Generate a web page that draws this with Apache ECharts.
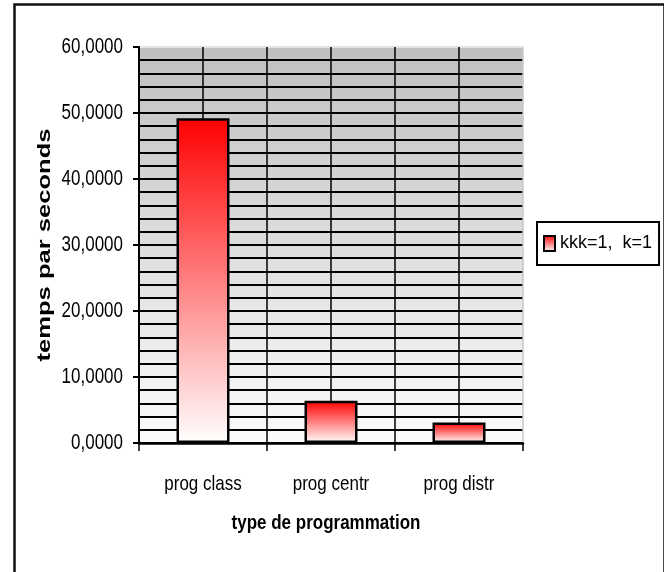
<!DOCTYPE html>
<html>
<head>
<meta charset="utf-8">
<script src="https://cdn.jsdelivr.net/npm/echarts@6/dist/echarts.min.js"></script>
<style>html,body{margin:0;padding:0;background:#fff}#c{width:664px;height:572px}</style>
</head>
<body>
<div id="c"></div>
<script>
var categories = ['prog class', 'prog centr', 'prog distr'];
var seriesName = 'kkk=1,  k=1';
var values = [49.2, 6.4, 3.1];
var yTicks = [0, 10, 20, 30, 40, 50, 60];
var yTitle = 'temps par seconds';
var xTitle = 'type de programmation';

var SANS = '"Liberation Sans", Arial, sans-serif';
function fmt(v) { return v.toFixed(4).replace('.', ','); }

var chart = echarts.init(document.getElementById('c'), null, {renderer: 'canvas'});
var grad = function (a, b) {
  return new echarts.graphic.LinearGradient(0, 0, 0, 1, [{offset: 0, color: a}, {offset: 1, color: b}]);
};
var frameGraphics = [
  {type: 'rect', left: 12, top: 2, shape: {width: 650, height: 620},
   style: {fill: null, stroke: '#111', lineWidth: 2.5}, silent: true},
  {type: 'text', x: 45, y: 245, rotation: Math.PI / 2, scaleX: 1.42,
   style: {text: yTitle, font: 'bold 18px ' + SANS, fill: '#000', textAlign: 'center', textVerticalAlign: 'middle'}},
  {type: 'text', x: 326, y: 523, scaleY: 1.2,
   style: {text: xTitle, font: 'bold 17px ' + SANS, fill: '#000', textAlign: 'center', textVerticalAlign: 'middle'}}
];
chart.setOption({
  animation: false,
  backgroundColor: '#ffffff',
  grid: {
    left: 139, right: 141, top: 47, bottom: 129,
    show: true, borderWidth: 0,
    backgroundColor: grad('#c0c0c0', '#fbfbfb')
  },
  legend: {
    left: 537, top: 222,
    orient: 'vertical',
    padding: [10, 7, 10, 6],
    borderColor: '#000', borderWidth: 2,
    backgroundColor: '#fff',
    itemWidth: 11, itemHeight: 15,
    icon: 'rect',
    itemStyle: {borderColor: '#000', borderWidth: 2},
    textStyle: {fontFamily: SANS, fontSize: 18, lineHeight: 23, color: '#000'},
    data: [seriesName]
  },
  xAxis: [{
    type: 'category',
    data: categories,
    axisLine: {lineStyle: {color: '#000', width: 2.5}},
    axisTick: {show: true, length: 8, lineStyle: {color: '#000', width: 1.5}},
    axisLabel: {show: false},
    splitLine: {show: false}
  }, {
    type: 'value', min: 0, max: 6, interval: 1, position: 'bottom',
    axisLine: {show: false}, axisTick: {show: false}, axisLabel: {show: false},
    splitLine: {show: true, lineStyle: {color: ['#000', '#000', '#000', '#000', '#000', '#000', '#c8c8c8'], width: 1.5}}
  }],
  yAxis: {
    type: 'value', min: yTicks[0], max: yTicks[yTicks.length - 1], interval: 10,
    axisLine: {show: true, lineStyle: {color: '#000', width: 2}},
    axisTick: {show: true, length: 6, lineStyle: {color: '#000', width: 2}},
    minorTick: {show: false, splitNumber: 5},
    axisLabel: {show: false},
    splitLine: {show: true, lineStyle: {color: ['#000', '#000', '#000', '#000', '#000', '#000', '#e4e4e4'], width: 2}},
    minorSplitLine: {show: true, lineStyle: {color: '#000', width: 2}}
  },
  series: [{
    name: seriesName,
    type: 'bar',
    xAxisIndex: 0,
    barWidth: 53,
    data: values,
    itemStyle: {color: grad('#ff0000', '#ffffff'), borderColor: '#000', borderWidth: 2.5}
  }],
  graphic: frameGraphics
});

// Tick labels placed through the axes' own scales (stretched vertically like the original)
var axisX = chart.convertToPixel({xAxisIndex: 1}, 0);
var axisY = chart.convertToPixel({yAxisIndex: 0}, 0);
var labelGraphics = [];
yTicks.forEach(function (v) {
  labelGraphics.push({
    type: 'text', x: axisX - 16, y: chart.convertToPixel({yAxisIndex: 0}, v), scaleY: 1.35,
    style: {text: fmt(v), font: '17px ' + SANS, fill: '#000', textAlign: 'right', textVerticalAlign: 'middle'}
  });
});
categories.forEach(function (c) {
  labelGraphics.push({
    type: 'text', x: chart.convertToPixel({xAxisIndex: 0}, c), y: axisY + 41, scaleY: 1.2,
    style: {text: c, font: '17px ' + SANS, fill: '#000', textAlign: 'center', textVerticalAlign: 'middle'}
  });
});
chart.setOption({graphic: frameGraphics.concat(labelGraphics)});
</script>
</body>
</html>
